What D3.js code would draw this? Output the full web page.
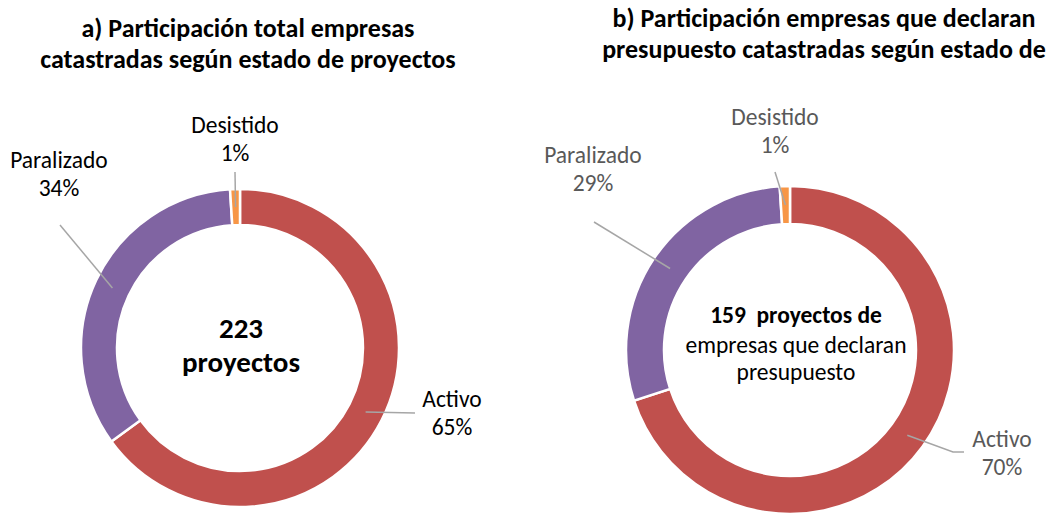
<!DOCTYPE html>
<html>
<head>
<meta charset="utf-8">
<script src="https://cdn.jsdelivr.net/npm/d3@7"></script>
<style>
  body { margin: 0; background: #fff; }
  svg { display: block; font-family: Carlito, Calibri, Lato, sans-serif; }
</style>
</head>
<body>
<div id="chart"></div>
<script>
// datos
var categories = ["Activo", "Paralizado", "Desistido"];
var valuesA = [65, 34, 1];
var valuesB = [70, 29, 1];
var pctLabelsA = ["65%", "34%", "1%"];
var pctLabelsB = ["70%", "29%", "1%"];
var colors = ["#C0504D", "#8064A2", "#F79646"];

var titleA = ["a) Participación total empresas", "catastradas según estado de proyectos"];
var titleB = ["b) Participación empresas que declaran", "presupuesto catastradas según estado de"];
var centerTextA = ["223", "proyectos"];
var centerTextB = ["159  proyectos de", "empresas que declaran", "presupuesto"];

var width = 1060, height = 516;

var svg = d3.select("#chart").append("svg")
  .attr("width", width)
  .attr("height", height);

var color = d3.scaleOrdinal().domain(categories).range(colors);

var pie = d3.pie().sort(null).value(function(d) { return d.value; });

// layout de cada dona
var layoutA = {
  cx: 240, cy: 348, outer: 159, inner: 123,
  title: { x: 248, y: [37, 68] },
  center: { x: 241, y: [338, 372], size: 29, bold: [true, true] },
  labelColor: "#000",
  labels: [
    { x: 452, y: 407, pts: [[415, 413]] },
    { x: 59, y: 168, pts: [[60, 225]] },
    { x: 235, y: 133, pts: [[235, 172]] }
  ]
};

var layoutB = {
  cx: 790, cy: 350, outer: 164, inner: 126,
  title: { x: 824, y: [27, 58] },
  center: { x: 796, y: [323, 353, 380], size: 23.5, bold: [true, false, false] },
  labelColor: "#595959",
  labels: [
    { x: 1002, y: 447, pts: [[953, 452], [964, 452]] },
    { x: 593, y: 163, pts: [[594, 222]] },
    { x: 775, y: 125, pts: [[775, 172]] }
  ]
};

function drawDonut(values, pctLabels, title, centerText, L) {
  var data = categories.map(function(c, i) { return { name: c, value: values[i], pct: pctLabels[i] }; });
  var arcs = pie(data);

  var arc = d3.arc().innerRadius(L.inner).outerRadius(L.outer);
  var midArc = d3.arc().innerRadius((L.inner + L.outer) / 2).outerRadius((L.inner + L.outer) / 2);

  var g = svg.append("g").attr("transform", "translate(" + L.cx + "," + L.cy + ")");

  g.selectAll("path.slice")
    .data(arcs)
    .enter()
    .append("path")
      .attr("class", "slice")
      .attr("d", arc)
      .attr("fill", function(d) { return color(d.data.name); })
      .attr("stroke", "#fff")
      .attr("stroke-width", 2.5);

  // lineas guia
  var line = d3.line();
  svg.selectAll(null)
    .data(arcs)
    .enter()
    .append("path")
      .attr("d", function(d, i) {
        var c = midArc.centroid(d);
        var pts = [[L.cx + c[0], L.cy + c[1]]].concat(L.labels[i].pts);
        return line(pts);
      })
      .attr("fill", "none")
      .attr("stroke", "#A6A6A6")
      .attr("stroke-width", 1.5);

  // etiquetas
  var lab = svg.selectAll(null)
    .data(arcs)
    .enter()
    .append("text")
      .attr("text-anchor", "middle")
      .attr("font-size", 23.5)
      .attr("fill", L.labelColor);
  lab.append("tspan")
    .attr("x", function(d, i) { return L.labels[i].x; })
    .attr("y", function(d, i) { return L.labels[i].y; })
    .text(function(d) { return d.data.name; });
  lab.append("tspan")
    .attr("x", function(d, i) { return L.labels[i].x; })
    .attr("y", function(d, i) { return L.labels[i].y + 28; })
    .text(function(d) { return d.data.pct; });

  // titulo
  svg.selectAll(null)
    .data(title)
    .enter()
    .append("text")
      .attr("x", L.title.x)
      .attr("y", function(d, i) { return L.title.y[i]; })
      .attr("text-anchor", "middle")
      .attr("font-size", 26)
      .attr("font-weight", "bold")
      .attr("fill", "#000")
      .text(function(d) { return d; });

  // texto central
  svg.selectAll(null)
    .data(centerText)
    .enter()
    .append("text")
      .attr("x", L.center.x)
      .attr("y", function(d, i) { return L.center.y[i]; })
      .attr("text-anchor", "middle")
      .attr("font-size", L.center.size)
      .attr("font-weight", function(d, i) { return L.center.bold[i] ? "bold" : "normal"; })
      .attr("fill", "#000")
      .style("white-space", "pre")
      .text(function(d) { return d; });
}

drawDonut(valuesA, pctLabelsA, titleA, centerTextA, layoutA);
drawDonut(valuesB, pctLabelsB, titleB, centerTextB, layoutB);
</script>
</body>
</html>
